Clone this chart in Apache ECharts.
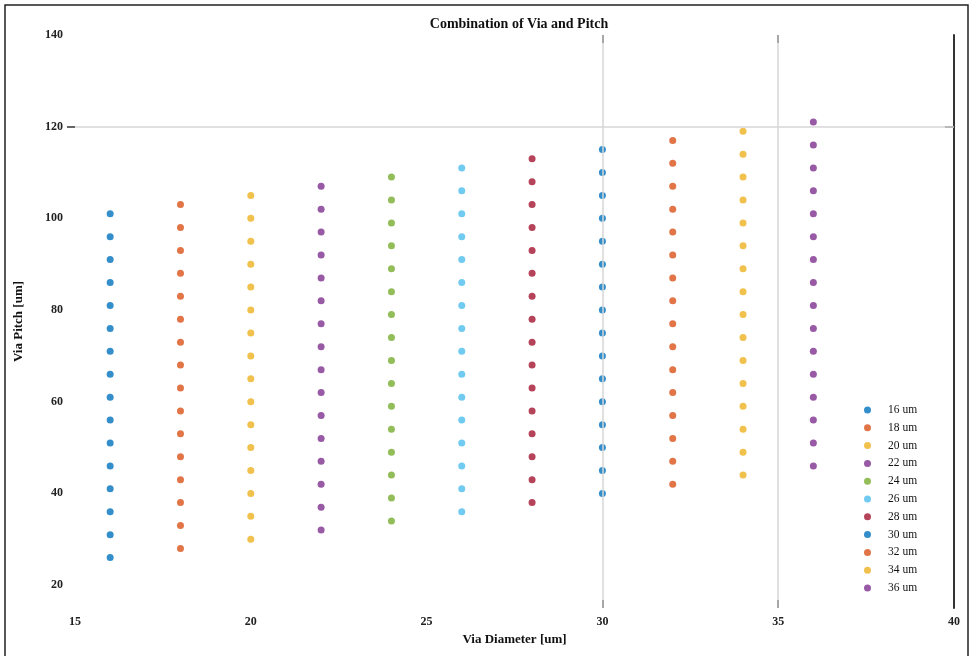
<!DOCTYPE html>
<html>
<head>
<meta charset="utf-8">
<script src="https://cdn.jsdelivr.net/npm/echarts@6/dist/echarts.min.js"></script>
<style>html,body{margin:0;padding:0;background:#fff}#c{width:973px;height:656px}</style>
</head>
<body>
<div id="c"></div>
<script>
var seriesNames = ['16 um','18 um','20 um','22 um','24 um','26 um','28 um','30 um','32 um','34 um','36 um'];
var diameters = [16,18,20,22,24,26,28,30,32,34,36];
var pitch16 = [26,31,36,41,46,51,56,61,66,71,76,81,86,91,96,101];
var pitch18 = [28,33,38,43,48,53,58,63,68,73,78,83,88,93,98,103];
var pitch20 = [30,35,40,45,50,55,60,65,70,75,80,85,90,95,100,105];
var pitch22 = [32,37,42,47,52,57,62,67,72,77,82,87,92,97,102,107];
var pitch24 = [34,39,44,49,54,59,64,69,74,79,84,89,94,99,104,109];
var pitch26 = [36,41,46,51,56,61,66,71,76,81,86,91,96,101,106,111];
var pitch28 = [38,43,48,53,58,63,68,73,78,83,88,93,98,103,108,113];
var pitch30 = [40,45,50,55,60,65,70,75,80,85,90,95,100,105,110,115];
var pitch32 = [42,47,52,57,62,67,72,77,82,87,92,97,102,107,112,117];
var pitch34 = [44,49,54,59,64,69,74,79,84,89,94,99,104,109,114,119];
var pitch36 = [46,51,56,61,66,71,76,81,86,91,96,101,106,111,116,121];
var pitches = [pitch16,pitch18,pitch20,pitch22,pitch24,pitch26,pitch28,pitch30,pitch32,pitch34,pitch36];
var xTicks = [15,20,25,30,35,40];
var yTicks = [20,40,60,80,100,120,140];
var colors = ['#0072BD','#D95319','#EDB120','#7E2F8E','#77AC30','#4DBEEE','#A2142F','#0072BD','#D95319','#EDB120','#7E2F8E'];

var font = 'Liberation Serif';
var series = seriesNames.map(function(n,i){
  return {
    name: n, type: 'scatter', symbol: 'circle', symbolSize: 7,
    itemStyle: {color: colors[i]},
    data: pitches[i].map(function(p){ return [diameters[i], p]; }),
    z: 3
  };
});
series.unshift({
  type: 'scatter', data: [], silent: true, z: 1,
  markLine: {
    silent: true, symbol: 'none', label: {show:false},
    lineStyle: {color:'#d6d6d6', width:1.5, type:'solid'},
    data: [{yAxis:120},{xAxis:30},{xAxis:35}]
  }
});

var chart = echarts.init(document.getElementById('c'));
chart.setOption({
  animation: false,
  backgroundColor: '#fff',
  color: colors,
  title: {
    text: 'Combination of Via and Pitch', left: 514, top: 12, textAlign: 'center',
    textStyle: {fontFamily: font, fontSize: 14, fontWeight: 'bold', color: '#111'}
  },
  grid: {left: 75, right: 19, top: 35, bottom: 48, containLabel: false},
  legend: {
    orient: 'vertical', left: 864, top: 404, itemWidth: 7, itemHeight: 7, itemGap: 5.8,
    icon: 'circle', data: seriesNames,
    textStyle: {fontFamily: font, fontSize: 11.5, color: '#111', padding: [0,0,0,12]},
    padding: 0
  },
  xAxis: [{
    type: 'value', min: 15, max: 40, interval: 5, position: 'bottom',
    name: 'Via Diameter [um]', nameLocation: 'middle', nameGap: 25,
    nameTextStyle: {fontFamily: font, fontSize: 13, fontWeight: 'bold', color: '#111'},
    axisLine: {show: false},
    axisTick: {show: true, inside: true, length: 8, customValues: [30,35], lineStyle: {color:'#222', width: 2}},
    axisLabel: {fontFamily: font, fontSize: 12, fontWeight: 'bold', color: '#222', margin: 8, customValues: xTicks},
    splitLine: {show: false}
  },{
    type: 'value', min: 15, max: 40, interval: 5, position: 'top',
    axisLine: {show: false},
    axisTick: {show: true, inside: true, length: 8, customValues: [30,35], lineStyle: {color:'#222', width: 2}},
    axisLabel: {show: false},
    splitLine: {show: false}
  }],
  yAxis: [{
    type: 'value', min: 15, max: 140, position: 'left',
    name: 'Via Pitch [um]', nameLocation: 'middle', nameGap: 50,
    nameTextStyle: {fontFamily: font, fontSize: 13, fontWeight: 'bold', color: '#111'},
    axisLine: {show: false},
    axisTick: {show: true, inside: false, length: 8, customValues: [120], lineStyle: {color:'#333', width: 1.5}},
    axisLabel: {fontFamily: font, fontSize: 12, fontWeight: 'bold', color: '#222', margin: 12, customValues: yTicks},
    splitLine: {show: false}
  },{
    type: 'value', min: 15, max: 140, position: 'right',
    axisLine: {show: true, lineStyle: {color: '#333', width: 2}},
    axisTick: {show: true, inside: true, length: 9, customValues: [120], lineStyle: {color:'#333', width: 1.5}},
    axisLabel: {show: false},
    splitLine: {show: false}
  }],
  graphic: [{
    type: 'rect', shape: {x: 5, y: 5, width: 963, height: 660},
    style: {fill: 'none', stroke: '#222', lineWidth: 1.5}, silent: true, z: 0
  }],
  series: series
});
</script>
</body>
</html>
